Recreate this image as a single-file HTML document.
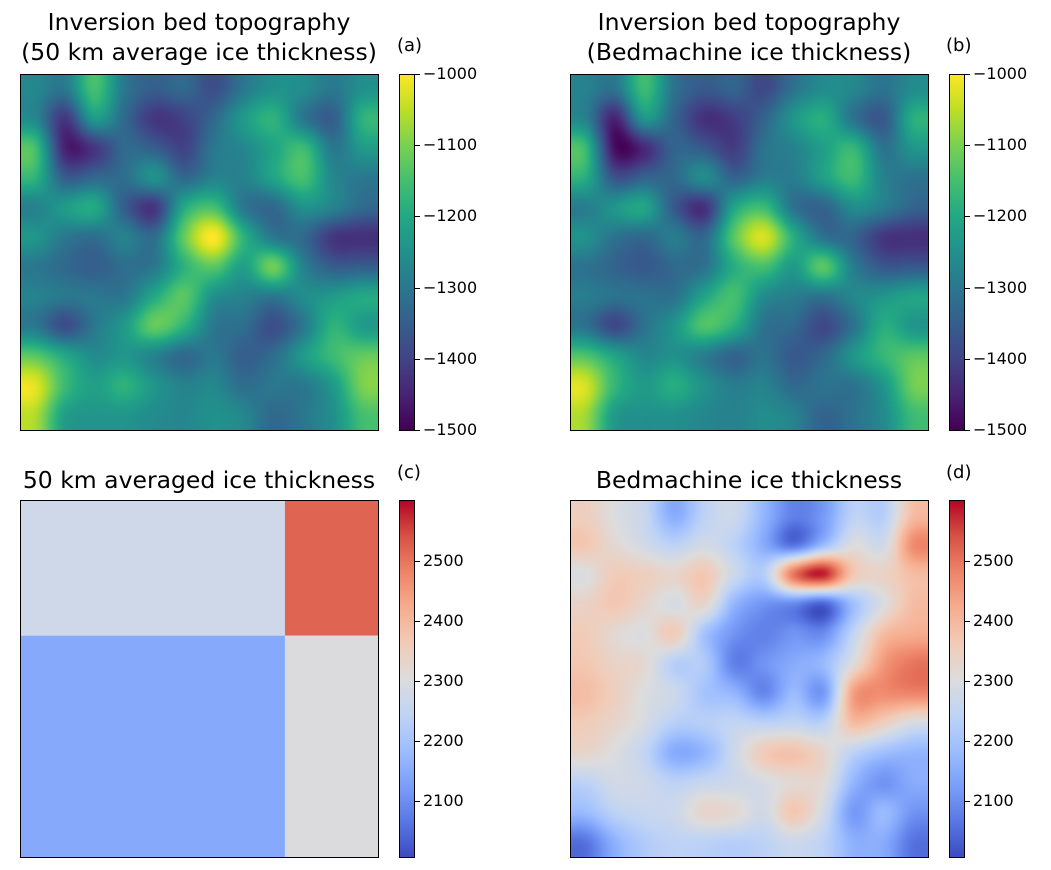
<!DOCTYPE html>
<html><head><meta charset="utf-8"><style>
body{margin:0;background:#fff;width:1051px;height:870px;overflow:hidden;font-family:"DejaVu Sans","Liberation Sans",sans-serif;position:relative}
.t{position:absolute;color:#000;white-space:nowrap}
.title{font-size:23.5px;text-align:center;line-height:30px}
.lab{font-size:18px}
canvas,svg{position:absolute}
.ax{position:absolute;border:1px solid #000;box-sizing:border-box}
</style></head><body>
<div class="t title" style="left:0;width:398px;top:7px">Inversion bed topography<br>(50 km average ice thickness)</div>
<div class="t lab" style="left:397px;top:35px">(a)</div>
<div class="t title" style="left:550px;width:398px;top:7px">Inversion bed topography<br>(Bedmachine ice thickness)</div>
<div class="t lab" style="left:946px;top:35px">(b)</div>
<div class="t title" style="left:0;width:398px;top:465px">50 km averaged ice thickness</div>
<div class="t lab" style="left:397px;top:462px">(c)</div>
<div class="t title" style="left:550px;width:398px;top:465px">Bedmachine ice thickness</div>
<div class="t lab" style="left:946px;top:462px">(d)</div>

<canvas id="ca" width="358" height="356" style="left:20px;top:74px"></canvas>
<canvas id="cb" width="358" height="356" style="left:570px;top:74px"></canvas>
<svg id="cc" width="358" height="357" style="left:20px;top:500px"></svg>
<canvas id="cd" width="358" height="357" style="left:570px;top:500px"></canvas>
<div class="ax" style="left:20px;top:74px;width:359px;height:357px"></div>
<div class="ax" style="left:570px;top:74px;width:359px;height:357px"></div>
<div class="ax" style="left:20px;top:500px;width:359px;height:358px"></div>
<div class="ax" style="left:570px;top:500px;width:359px;height:358px"></div>
<script>
const rangeA=[-1500,-1000];
const rangeD=[2007,2602];
const ticksA=[-1000,-1100,-1200,-1300,-1400,-1500];
const ticksD=[2100,2200,2300,2400,2500];
const gridA=[
[-1270,-1300,-1150,-1300,-1350,-1330,-1380,-1300,-1250,-1260,-1300,-1250],
[-1270,-1420,-1230,-1330,-1420,-1400,-1330,-1230,-1180,-1300,-1350,-1180],
[-1150,-1450,-1420,-1330,-1350,-1400,-1300,-1270,-1210,-1160,-1300,-1230],
[-1180,-1350,-1330,-1320,-1250,-1330,-1280,-1280,-1210,-1150,-1270,-1300],
[-1280,-1230,-1200,-1350,-1420,-1200,-1150,-1300,-1330,-1250,-1280,-1330],
[-1240,-1300,-1320,-1280,-1320,-1120,-1000,-1180,-1300,-1330,-1420,-1430],
[-1300,-1330,-1350,-1320,-1300,-1180,-1130,-1220,-1110,-1280,-1350,-1350],
[-1280,-1300,-1300,-1300,-1200,-1130,-1250,-1280,-1300,-1260,-1230,-1200],
[-1300,-1380,-1300,-1230,-1120,-1180,-1300,-1320,-1380,-1300,-1180,-1230],
[-1130,-1200,-1260,-1240,-1280,-1330,-1300,-1350,-1320,-1230,-1160,-1120],
[-1020,-1160,-1220,-1180,-1240,-1280,-1270,-1320,-1300,-1300,-1230,-1100],
[-1060,-1220,-1240,-1240,-1260,-1270,-1250,-1270,-1330,-1300,-1250,-1150]];
const gridB=[
[-1280,-1310,-1160,-1310,-1360,-1340,-1390,-1310,-1260,-1270,-1310,-1260],
[-1280,-1450,-1240,-1340,-1430,-1410,-1340,-1240,-1190,-1310,-1360,-1190],
[-1160,-1480,-1440,-1340,-1360,-1410,-1310,-1280,-1220,-1170,-1310,-1240],
[-1190,-1370,-1340,-1330,-1260,-1340,-1290,-1290,-1220,-1160,-1280,-1310],
[-1290,-1240,-1210,-1360,-1430,-1210,-1160,-1310,-1340,-1260,-1290,-1340],
[-1250,-1310,-1330,-1290,-1330,-1130,-1030,-1190,-1310,-1340,-1420,-1430],
[-1310,-1340,-1360,-1330,-1310,-1190,-1150,-1230,-1130,-1290,-1360,-1360],
[-1290,-1310,-1310,-1310,-1210,-1150,-1260,-1290,-1310,-1270,-1240,-1210],
[-1310,-1390,-1310,-1240,-1140,-1190,-1310,-1330,-1390,-1310,-1190,-1240],
[-1140,-1210,-1270,-1250,-1290,-1340,-1310,-1360,-1330,-1240,-1170,-1130],
[-1030,-1170,-1230,-1190,-1250,-1290,-1280,-1330,-1310,-1310,-1240,-1110],
[-1070,-1230,-1250,-1250,-1270,-1280,-1260,-1280,-1340,-1310,-1260,-1160]];
const gridD=[
[2350,2300,2260,2150,2240,2270,2170,2080,2120,2240,2230,2390],
[2370,2320,2280,2240,2280,2240,2150,2060,2180,2300,2280,2470],
[2300,2360,2350,2330,2370,2270,2230,2500,2580,2370,2340,2390],
[2340,2370,2330,2290,2330,2170,2110,2090,2040,2190,2300,2390],
[2360,2320,2300,2360,2200,2110,2080,2110,2100,2250,2390,2420],
[2370,2340,2320,2230,2220,2080,2110,2150,2180,2310,2450,2500],
[2390,2350,2300,2270,2200,2170,2090,2180,2120,2440,2470,2480],
[2360,2330,2290,2230,2230,2250,2240,2250,2240,2390,2350,2290],
[2330,2300,2250,2150,2170,2270,2360,2380,2330,2240,2190,2170],
[2240,2280,2270,2240,2260,2270,2290,2320,2310,2170,2110,2150],
[2180,2240,2260,2270,2330,2320,2280,2370,2280,2120,2180,2110],
[2060,2160,2220,2240,2240,2230,2240,2270,2240,2160,2150,2060]];
const blocksC=[2275,2520,2145,2300];
const splitC=[0.74,0.38];

const VIR=["#440154","#482475","#414487","#355f8d","#2a788e","#21918c","#22a884","#44bf70","#7ad151","#bddf26","#fde725"];
const CW=["#3b4cc0","#5a78e4","#7b9ff9","#9ebeff","#c0d4f5","#dddcdc","#f2cbb7","#f7ac8e","#ee8468","#d65244","#b40426"];
function hex(h){return [1,3,5].map(i=>parseInt(h.substr(i,2),16));}
function cmap(stops,t){t=Math.max(0,Math.min(1,t));const s=stops.map(hex);const f=t*(s.length-1);const i=Math.min(s.length-2,Math.floor(f));const u=f-i;return s[i].map((c,k)=>Math.round(c+(s[i+1][k]-c)*u));}
function cr(p0,p1,p2,p3,t){return 0.5*((2*p1)+(-p0+p2)*t+(2*p0-5*p1+4*p2-p3)*t*t+(-p0+3*p1-3*p2+p3)*t*t*t);}
function sample(g,x,y){const n=g.length,m=g[0].length;const gx=x*m-0.5,gy=y*n-0.5;const ix=Math.floor(gx),iy=Math.floor(gy);const tx=gx-ix,ty=gy-iy;const G=(r,c)=>g[Math.max(0,Math.min(n-1,r))][Math.max(0,Math.min(m-1,c))];const rows=[];for(let j=-1;j<3;j++){rows.push(cr(G(iy+j,ix-1),G(iy+j,ix),G(iy+j,ix+1),G(iy+j,ix+2),tx));}return cr(rows[0],rows[1],rows[2],rows[3],ty);}
function drawHeat(id,g,range,stops){const c=document.getElementById(id);const ctx=c.getContext('2d');const W=c.width,H=c.height;const img=ctx.createImageData(W,H);for(let y=0;y<H;y++)for(let x=0;x<W;x++){const v=sample(g,(x+0.5)/W,(y+0.5)/H);const col=cmap(stops,(v-range[0])/(range[1]-range[0]));const o=(y*W+x)*4;img.data[o]=col[0];img.data[o+1]=col[1];img.data[o+2]=col[2];img.data[o+3]=255;}ctx.putImageData(img,0,0);}
drawHeat('ca',gridA,rangeA,VIR);
drawHeat('cb',gridB,rangeA,VIR);
drawHeat('cd',gridD,rangeD,CW);
const svg=document.getElementById('cc');const NS="http://www.w3.org/2000/svg";
const W=358,H=357;const sx=W*splitC[0],sy=H*splitC[1];
const rects=[[0,0,sx,sy],[sx,0,W-sx,sy],[0,sy,sx,H-sy],[sx,sy,W-sx,H-sy]];
blocksC.forEach((v,i)=>{const r=document.createElementNS(NS,'rect');const q=rects[i];r.setAttribute('x',q[0]);r.setAttribute('y',q[1]);r.setAttribute('width',q[2]);r.setAttribute('height',q[3]);const c=cmap(CW,(v-rangeD[0])/(rangeD[1]-rangeD[0]));r.setAttribute('fill','rgb('+c.join(',')+')');


svg.appendChild(r);});
function colorbar(left,top,h,range,stops,ticks,name){const cv=document.createElement('canvas');cv.width=15;cv.height=h;cv.style.left=left+'px';cv.style.top=top+'px';


const ctx=cv.getContext('2d');for(let y=0;y<h;y++){const c=cmap(stops,1-(y+0.5)/h);ctx.fillStyle='rgb('+c.join(',')+')';ctx.fillRect(0,y,15,1);}document.body.appendChild(cv);
const fr=document.createElement('div');fr.className='ax';fr.style.cssText='left:'+left+'px;top:'+top+'px;width:16px;height:'+(h+1)+'px';


document.body.appendChild(fr);
ticks.forEach(t=>{const y=top+h-(t-range[0])/(range[1]-range[0])*h;const tk=document.createElement('div');tk.style.cssText='position:absolute;left:'+(left+16)+'px;top:'+(y)+'px;width:5px;height:1px;background:#000';


document.body.appendChild(tk);const lb=document.createElement('div');lb.className='t';lb.style.cssText='left:'+(left+24)+'px;top:'+(y-10)+'px;font-size:16px';lb.textContent=String(t).replace('-','\u2212');


document.body.appendChild(lb);});}
colorbar(399,74,356,rangeA,VIR,ticksA,'colorbar-a');
colorbar(949,74,356,rangeA,VIR,ticksA,'colorbar-b');
colorbar(399,500,357,rangeD,CW,ticksD,'colorbar-c');
colorbar(949,500,357,rangeD,CW,ticksD,'colorbar-d');
</script>
</body></html>
